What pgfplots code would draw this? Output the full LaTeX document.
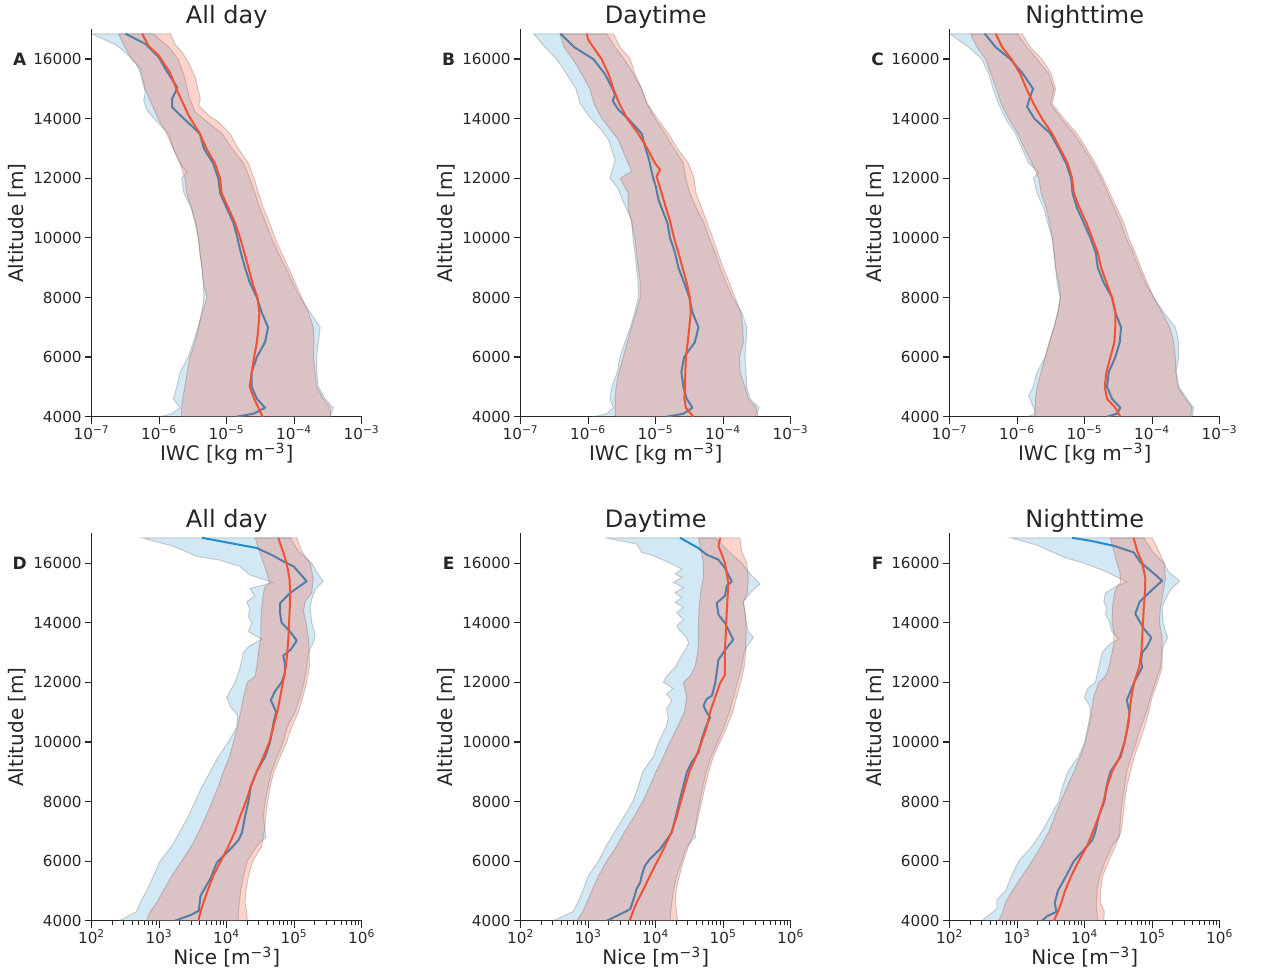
\documentclass[border=0pt]{standalone}
\usepackage{fontspec}
\setmainfont{DejaVu Sans}
\usepackage{pgfplots}
\pgfplotsset{compat=1.18}
\usepgfplotslibrary{groupplots}

\definecolor{bline}{RGB}{35,140,205}
\definecolor{rline}{RGB}{242,82,52}
\definecolor{txt}{RGB}{38,38,38}

\tikzset{letter/.style={font=\bfseries\fontsize{8.5}{10}\selectfont, text=txt}}

\pgfplotsset{
  prof/.style={
    scale only axis, width=135pt, height=193.7pt,
    ymin=4000, ymax=17000,
    ytick={4000,6000,8000,10000,12000,14000,16000},
    yticklabels={4000,6000,8000,10000,12000,14000,16000},
    scaled y ticks=false,
    axis x line*=bottom, axis y line*=left,
    axis line style={txt, line width=0.6pt, -},
    tick align=outside,
    major tick length=3.5pt, minor tick length=2pt,
    major tick style={txt, line width=0.6pt},
    minor tick style={txt, line width=0.45pt},
    tick label style={font=\fontsize{7.6}{9}\selectfont, text=txt},
    xticklabel style={yshift=2.5pt},
    yticklabel style={xshift=2pt},
    label style={font=\fontsize{10}{12}\selectfont, text=txt},
    every axis title/.style={font=\fontsize{12}{14}\selectfont, text=txt,
      at={(axis description cs:0.5,1.0155)}, anchor=base},
    xlabel style={at={(axis description cs:0.5,-0.113)}, anchor=base},
    ylabel style={at={(axis description cs:-0.277,0.5)}, anchor=center},
    ylabel={Altitude [m]},
  },
  iwc/.style={xmin=1e-7, xmax=1e-3,
    xtick={1e-7,1e-6,1e-5,1e-4,1e-3},
    xticklabels={10\textsuperscript{−7},10\textsuperscript{−6},10\textsuperscript{−5},10\textsuperscript{−4},10\textsuperscript{−3}},
    xminorticks=false,
    xlabel={IWC [kg m\textsuperscript{−3}]}},
  nice/.style={xmin=1e2, xmax=1e6,
    xtick={1e2,1e3,1e4,1e5,1e6},
    xticklabels={10\textsuperscript{2},10\textsuperscript{3},10\textsuperscript{4},10\textsuperscript{5},10\textsuperscript{6}},
    minor xtick={200,300,400,500,600,700,800,900,
      2000,3000,4000,5000,6000,7000,8000,9000,
      20000,30000,40000,50000,60000,70000,80000,90000,
      200000,300000,400000,500000,600000,700000,800000,900000},
    xlabel={Nice [m\textsuperscript{−3}]}},
  panel/.style={extra description/.code={\node[letter] at (-0.267,0.923) {#1};}},
  bband/.style={fill=bline, fill opacity=0.2, draw=black!60, draw opacity=0.3, line width=0.5pt},
  rband/.style={fill=rline, fill opacity=0.25, draw=black!60, draw opacity=0.3, line width=0.5pt},
  bmed/.style={bline, line width=1pt, line join=round},
  rmed/.style={rline, line width=1pt, line join=round},
}

\begin{document}
\begin{tikzpicture}
\begin{groupplot}[group style={group size=3 by 2, horizontal sep=79.5pt, vertical sep=58.3pt},
  xmode=log, prof]

% ---------------- IWC, all day ----------------
\nextgroupplot[iwc, title={All day}, panel=A]
\addplot[bband] coordinates {
(1.03e-6,4000) (1.53e-6,4100) (2.04e-6,4300) (1.62e-6,4600) (1.82e-6,5000) (2.04e-6,5500) (2.7e-6,6000) (3.2e-6,6500) (3.8e-6,7000) (4.3e-6,7500) (4.6e-6,8000) (4.5e-6,8500) (4.3e-6,9000) (4.0e-6,9500) (3.8e-6,10000) (3.4e-6,10500) (3.0e-6,11000) (2.33e-6,11500) (2.15e-6,12000) (2.55e-6,12200) (2.04e-6,12500) (1.62e-6,13000) (1.37e-6,13500) (8.5e-7,14000) (6.6e-7,14275) (5.9e-7,14611) (6.2e-7,14893) (5.2e-7,15565) (4.4e-7,15900) (3.5e-7,16122) (2.37e-7,16458) (1.0e-7,16850)
(8.1e-7,16850) (1.4e-6,16400) (1.9e-6,16000) (2.3e-6,15500) (2.6e-6,15000) (2.8e-6,14700) (3.4e-6,14230) (4.5e-6,14000) (8.5e-6,13500) (1.2e-5,13000) (1.77e-5,12500) (2.2e-5,12000) (2.63e-5,11500) (3.1e-5,11000) (3.8e-5,10500) (4.6e-5,10000) (5.8e-5,9500) (7.5e-5,9000) (9.5e-5,8500) (1.22e-4,8000) (1.72e-4,7500) (2.42e-4,7000) (2.28e-4,6500) (2.15e-4,6000) (2.15e-4,5500) (2.28e-4,5000) (2.86e-4,4600) (3.8e-4,4300) (3.4e-4,4000)
} -- cycle;
\addplot[bmed] coordinates {
(1.4e-5,4000) (2.5e-5,4100) (3.7e-5,4300) (2.8e-5,4600) (2.35e-5,5000) (2.35e-5,5500) (2.8e-5,6000) (3.7e-5,6500) (4.1e-5,7000) (3.3e-5,7500) (2.8e-5,8000) (2.2e-5,8500) (1.87e-5,9000) (1.62e-5,9500) (1.44e-5,10000) (1.26e-5,10500) (1.0e-5,11000) (8.0e-6,11500) (7.5e-6,12000) (6.3e-6,12500) (4.6e-6,13000) (4.0e-6,13500) (1.95e-6,14164) (1.55e-6,14389) (1.55e-6,14668) (1.74e-6,14893) (1.84e-6,15061) (1.23e-6,15676) (9.8e-7,16068) (6.2e-7,16515) (3.16e-7,16850)
};
\addplot[rband] coordinates {
(2.15e-6,4000) (2.15e-6,4300) (2.23e-6,4600) (2.4e-6,5000) (2.6e-6,5500) (2.86e-6,6000) (3.4e-6,6500) (3.8e-6,7000) (4.3e-6,7500) (5.1e-6,8000) (4.5e-6,8500) (4.3e-6,9000) (4.0e-6,9500) (3.8e-6,10000) (3.5e-6,10500) (3.0e-6,11000) (2.55e-6,11500) (2.4e-6,12000) (2.04e-6,12500) (1.62e-6,13000) (1.29e-6,13500) (9.7e-7,14000) (7.7e-7,14500) (6.2e-7,15000) (5.2e-7,15700) (3.9e-7,16000) (3.1e-7,16400) (2.5e-7,16850)
(1.46e-6,16850) (1.72e-6,16500) (2.18e-6,16235) (2.7e-6,15900) (3.4e-6,15400) (3.85e-6,14893) (4.07e-6,14668) (3.85e-6,14443) (5.4e-6,14107) (7.5e-6,13900) (1.12e-5,13500) (1.49e-5,13000) (2.1e-5,12500) (2.55e-5,12000) (2.95e-5,11500) (3.5e-5,11000) (4.3e-5,10500) (5.2e-5,10000) (6.5e-5,9500) (8.2e-5,9000) (1.03e-4,8500) (1.29e-4,8000) (1.62e-4,7500) (1.92e-4,7000) (1.97e-4,6500) (1.92e-4,6000) (2.04e-4,5500) (2.15e-4,5000) (2.7e-4,4600) (3.4e-4,4300) (3.5e-4,4000)
} -- cycle;
\addplot[rmed] coordinates {
(3.4e-5,4000) (2.95e-5,4300) (2.55e-5,4600) (2.2e-5,5000) (2.35e-5,5500) (2.55e-5,6000) (2.8e-5,6500) (2.95e-5,7000) (3.05e-5,7500) (2.85e-5,8000) (2.4e-5,8500) (2.1e-5,9000) (1.83e-5,9500) (1.58e-5,10000) (1.33e-5,10500) (1.06e-5,11000) (8.4e-6,11500) (8.0e-6,12000) (6.7e-6,12500) (5.0e-6,13000) (4.0e-6,13500) (2.73e-6,14107) (1.84e-6,14950) (1.43e-6,15565) (9.8e-7,16122) (6.9e-7,16450) (5.6e-7,16850)
};

% ---------------- IWC, daytime ----------------
\nextgroupplot[iwc, title={Daytime}, panel=B]
\addplot[bband] coordinates {
(1.19e-6,4000) (1.88e-6,4100) (2.36e-6,4300) (2.1e-6,4600) (2.23e-6,5000) (2.7e-6,5500) (2.96e-6,6000) (3.5e-6,6500) (4.2e-6,7000) (4.9e-6,7500) (5.5e-6,8000) (5.5e-6,8500) (5.2e-6,9000) (4.9e-6,9500) (4.6e-6,10000) (4.4e-6,10600) (3.3e-6,11220) (2.7e-6,11700) (2.1e-6,12000) (2.5e-6,12620) (2.0e-6,13290) (1.6e-6,13600) (1.1e-6,14000) (7.6e-7,14500) (6.6e-7,15000) (4.8e-7,15500) (3.4e-7,16000) (2.3e-7,16400) (1.54e-7,16850)
(1.88e-6,16850) (2.5e-6,16400) (3.4e-6,16000) (4.7e-6,15500) (6.2e-6,15000) (7.4e-6,14500) (9.8e-6,14000) (1.37e-5,13500) (1.87e-5,13000) (2.57e-5,12500) (2.8e-5,12000) (3.2e-5,11500) (4.0e-5,11000) (5.2e-5,10500) (6.2e-5,10000) (7.6e-5,9500) (9.0e-5,9000) (1.1e-4,8500) (1.38e-4,8000) (1.88e-4,7500) (2.23e-4,7000) (2.18e-4,6500) (2.1e-4,6000) (2.18e-4,5500) (2.23e-4,5000) (2.5e-4,4600) (3.4e-4,4300) (2.96e-4,4000)
} -- cycle;
\addplot[bmed] coordinates {
(1.46e-5,4000) (2.57e-5,4100) (3.5e-5,4300) (2.88e-5,4600) (2.57e-5,5000) (2.4e-5,5500) (2.63e-5,6000) (3.8e-5,6500) (4.3e-5,7000) (3.5e-5,7500) (3.15e-5,8000) (2.63e-5,8500) (2.17e-5,9000) (1.93e-5,9500) (1.63e-5,10000) (1.49e-5,10500) (1.1e-5,11277) (1.01e-5,11700) (9.2e-6,12000) (8.7e-6,12227) (8.0e-6,12600) (7.1e-6,13000) (6.2e-6,13500) (3.9e-6,14000) (2.8e-6,14300) (2.3e-6,14600) (2.5e-6,14800) (2.3e-6,15000) (1.77e-6,15500) (1.19e-6,16000) (6.2e-7,16400) (3.9e-7,16850)
};
\addplot[rband] coordinates {
(2.5e-6,4000) (2.5e-6,4300) (2.5e-6,4600) (2.58e-6,5000) (2.86e-6,5500) (3.3e-6,6000) (3.8e-6,6500) (4.4e-6,7000) (5.1e-6,7500) (5.9e-6,8000) (5.9e-6,8500) (5.5e-6,9000) (5.2e-6,9500) (4.9e-6,10000) (4.4e-6,10500) (3.9e-6,11000) (3.9e-6,11500) (2.96e-6,12000) (4.4e-6,12230) (3.7e-6,12620) (2.8e-6,13290) (2.2e-6,13600) (1.6e-6,14000) (1.22e-6,14500) (1.06e-6,15000) (8.0e-7,15500) (5.9e-7,16000) (4.4e-7,16400) (3.8e-7,16850)
(2.36e-6,16850) (2.96e-6,16400) (4.2e-6,16000) (4.9e-6,15500) (6.2e-6,15000) (7.5e-6,14500) (1.06e-5,14000) (1.54e-5,13500) (2.1e-5,13000) (3.05e-5,12500) (3.7e-5,12000) (3.96e-5,11500) (4.8e-5,11000) (5.8e-5,10500) (7.0e-5,10000) (8.3e-5,9500) (1.0e-4,9000) (1.23e-4,8500) (1.5e-4,8000) (1.82e-4,7500) (1.95e-4,7000) (1.99e-4,6500) (1.74e-4,6000) (1.78e-4,5500) (2.1e-4,5000) (2.36e-4,4600) (3.06e-4,4300) (3.3e-4,4000)
} -- cycle;
\addplot[rmed] coordinates {
(3.6e-5,4000) (2.8e-5,4300) (2.66e-5,4600) (2.72e-5,5000) (2.75e-5,5500) (2.8e-5,6000) (2.98e-5,6500) (3.15e-5,7000) (3.3e-5,7500) (3.2e-5,8000) (2.88e-5,8500) (2.5e-5,9000) (2.17e-5,9500) (1.87e-5,10000) (1.62e-5,10590) (1.42e-5,11000) (1.19e-5,11600) (1.03e-5,12060) (1.16e-5,12290) (9.8e-6,12500) (7.5e-6,13000) (5.5e-6,13500) (3.8e-6,14000) (2.9e-6,14500) (2.36e-6,15000) (2.0e-6,15500) (1.58e-6,16000) (1.19e-6,16400) (1.0e-6,16650) (9.5e-7,16850)
};

% ---------------- IWC, nighttime ----------------
\nextgroupplot[iwc, title={Nighttime}, panel=C]
\addplot[bband] coordinates {
(1.4e-6,4000) (1.86e-6,4100) (1.75e-6,4300) (1.48e-6,4700) (1.72e-6,5000) (1.97e-6,5500) (2.6e-6,6000) (3.0e-6,6500) (3.5e-6,7000) (4.0e-6,7500) (4.3e-6,8000) (3.9e-6,8500) (3.7e-6,9000) (3.5e-6,9500) (3.3e-6,10000) (2.83e-6,10500) (2.47e-6,11000) (1.97e-6,11500) (1.75e-6,12000) (2.08e-6,12200) (1.48e-6,12500) (1.18e-6,13000) (9.4e-7,13500) (6.7e-7,14000) (5.3e-7,14500) (4.4e-7,15000) (3.8e-7,15500) (3.0e-7,16000) (1.91e-7,16400) (1.0e-7,16850)
(1.0e-6,16850) (1.4e-6,16400) (1.97e-6,16000) (2.93e-6,15500) (3.5e-6,15000) (3.1e-6,14500) (4.5e-6,14000) (6.9e-6,13500) (9.7e-6,13000) (1.33e-5,12500) (1.75e-5,12000) (2.19e-5,11500) (2.75e-5,11000) (3.45e-5,10500) (4.1e-5,10000) (5.2e-5,9500) (6.3e-5,9000) (7.9e-5,8500) (1.05e-4,8000) (1.48e-4,7500) (2.2e-4,7000) (2.47e-4,6500) (2.47e-4,6000) (2.25e-4,5500) (2.47e-4,5000) (3.28e-4,4600) (4.1e-4,4300) (3.9e-4,4000)
} -- cycle;
\addplot[bmed] coordinates {
(2.14e-5,4000) (3.0e-5,4100) (3.37e-5,4300) (2.54e-5,4600) (2.14e-5,5000) (2.27e-5,5500) (2.84e-5,6000) (3.3e-5,6500) (3.45e-5,7000) (2.84e-5,7500) (2.54e-5,8000) (1.91e-5,8500) (1.56e-5,9000) (1.46e-5,9500) (1.21e-5,10000) (9.7e-6,10500) (7.7e-6,11000) (6.6e-6,11500) (6.3e-6,12000) (5.3e-6,12500) (4.1e-6,13000) (3.1e-6,13500) (1.8e-6,14000) (1.4e-6,14400) (1.53e-6,14700) (1.72e-6,15000) (1.22e-6,15500) (7.9e-7,16000) (4.8e-7,16400) (3.3e-7,16850)
};
\addplot[rband] coordinates {
(1.8e-6,4000) (1.86e-6,4300) (1.86e-6,4600) (1.97e-6,5000) (2.26e-6,5500) (2.6e-6,6000) (3.0e-6,6500) (3.5e-6,7000) (4.0e-6,7500) (4.4e-6,8000) (4.1e-6,8500) (3.7e-6,9000) (3.5e-6,9500) (3.3e-6,10000) (3.0e-6,10500) (2.7e-6,11000) (2.26e-6,11500) (2.08e-6,12000) (1.66e-6,12500) (1.28e-6,13000) (1.02e-6,13500) (7.5e-7,14000) (5.8e-7,14500) (4.9e-7,15000) (4.1e-7,15500) (3.4e-7,16000) (2.54e-7,16400) (2.02e-7,16850)
(1.18e-6,16850) (1.57e-6,16400) (2.33e-6,16000) (3.2e-6,15500) (3.7e-6,15000) (3.3e-6,14500) (4.9e-6,14000) (7.7e-6,13500) (1.06e-5,13000) (1.44e-5,12500) (1.87e-5,12000) (2.35e-5,11500) (3.0e-5,11000) (3.8e-5,10500) (4.5e-5,10000) (5.6e-5,9500) (6.8e-5,9000) (8.4e-5,8500) (1.05e-4,8000) (1.4e-4,7500) (1.82e-4,7000) (2.08e-4,6500) (2.2e-4,6000) (2.25e-4,5500) (2.39e-4,5000) (3.1e-4,4600) (3.9e-4,4300) (3.7e-4,4000)
} -- cycle;
\addplot[rmed] coordinates {
(3.37e-5,4000) (2.84e-5,4300) (2.14e-5,4600) (1.98e-5,5000) (2.1e-5,5500) (2.4e-5,6000) (2.75e-5,6500) (2.84e-5,7000) (2.84e-5,7500) (2.54e-5,8000) (2.1e-5,8500) (1.75e-5,9000) (1.56e-5,9500) (1.29e-5,10000) (1.06e-5,10500) (8.4e-6,11000) (6.9e-6,11500) (6.5e-6,12000) (5.6e-6,12500) (4.3e-6,13000) (3.3e-6,13500) (2.33e-6,14000) (1.75e-6,14500) (1.37e-6,15000) (1.11e-6,15500) (8.2e-7,16000) (6.0e-7,16400) (4.8e-7,16850)
};

% ---------------- Nice, all day ----------------
\nextgroupplot[nice, title={All day}, panel=D]
\addplot[bband] coordinates {
(2.57e2,4000) (4.6e2,4300) (5.2e2,4600) (6.5e2,5000) (8.2e2,5500) (1.03e3,6000) (1.53e3,6500) (2.04e3,7000) (2.7e3,7500) (3.4e3,8000) (4.3e3,8500) (5.7e3,9000) (7.5e3,9500) (1.06e4,10000) (1.41e4,10500) (1.44e4,10900) (1.12e4,11200) (1.0e4,11500) (1.33e4,12000) (1.58e4,12500) (1.77e4,13000) (2.1e4,13200) (3.3e4,13450) (2.1e4,13700) (2.35e4,14000) (2.1e4,14200) (2.2e4,14450) (1.98e4,14700) (2.6e4,14900) (2.2e4,15150) (4.9e4,15350) (2.2e4,15600) (1.57e4,15890) (8.0e3,16100) (3.6e3,16230) (1.62e3,16565) (5.5e2,16850)
(8.7e4,16850) (1.15e5,16400) (1.82e5,16000) (2.15e5,15700) (2.7e5,15400) (2.04e5,15100) (1.82e5,14800) (1.72e5,14500) (1.82e5,14000) (2.04e5,13600) (1.97e5,13400) (1.62e5,13000) (1.53e5,12500) (1.4e5,12000) (1.22e5,11500) (1.03e5,11000) (7.9e4,10500) (6.9e4,10000) (5.6e4,9500) (4.6e4,9000) (4.1e4,8500) (3.7e4,8000) (3.5e4,7500) (3.7e4,7000) (3.8e4,6800) (2.78e4,6500) (2.02e4,6000) (1.77e4,5500) (1.61e4,5000) (1.54e4,4600) (1.49e4,4300) (1.49e4,4000)
} -- cycle;
\addplot[bmed] coordinates {
(1.72e3,4000) (3.0e3,4200) (3.85e3,4336) (4.1e3,4840) (5.7e3,5400) (7.2e3,5960) (1.2e4,6463) (1.49e4,6700) (1.69e4,6966) (1.87e4,7500) (2.1e4,8000) (2.27e4,8500) (2.78e4,9000) (3.7e4,9500) (4.4e4,10000) (5.0e4,10700) (5.4e4,11000) (4.5e4,11400) (5.2e4,11700) (6.5e4,12000) (7.3e4,12300) (7.3e4,12600) (6.9e4,12900) (8.9e4,13100) (1.09e5,13400) (8.7e4,13700) (6.5e4,14000) (6.2e4,14300) (6.2e4,14660) (8.7e4,15000) (1.53e5,15390) (9.8e4,15890) (7.7e4,16000) (4.6e4,16280) (2.78e4,16507) (4.3e3,16850)
};
\addplot[rband] coordinates {
(6.5e2,4000) (7.3e2,4300) (9.2e2,4600) (1.15e3,5000) (1.53e3,5500) (2.15e3,6000) (3.0e3,6500) (3.9e3,7000) (4.9e3,7500) (6.1e3,8000) (7.5e3,8500) (8.9e3,9000) (1.1e4,9500) (1.26e4,10000) (1.44e4,10500) (1.61e4,11000) (1.77e4,11500) (2.02e4,12000) (2.63e4,12200) (2.78e4,12500) (2.95e4,13000) (3.2e4,13500) (3.2e4,14000) (3.3e4,14500) (3.5e4,15000) (3.7e4,15200) (4.3e4,15350) (3.9e4,15700) (3.5e4,16000) (3.05e4,16400) (2.63e4,16850)
(1.09e5,16850) (1.29e5,16400) (1.72e5,16000) (1.92e5,15500) (1.82e5,15000) (1.45e5,14700) (1.37e5,14400) (1.5e5,14000) (1.62e5,13500) (1.68e5,13000) (1.68e5,12500) (1.53e5,12000) (1.34e5,11500) (1.15e5,11000) (9.2e4,10500) (7.7e4,10000) (6.2e4,9500) (5.0e4,9000) (4.4e4,8500) (4.05e4,8000) (3.8e4,7500) (3.6e4,7000) (3.3e4,6500) (2.43e4,6000) (2.1e4,5500) (1.93e4,5000) (1.87e4,4600) (1.98e4,4300) (2.02e4,4000)
} -- cycle;
\addplot[rmed] coordinates {
(3.8e3,4000) (4.1e3,4300) (4.5e3,4600) (5.2e3,5000) (6.3e3,5500) (8.2e3,6000) (1.06e4,6500) (1.33e4,7000) (1.58e4,7500) (1.93e4,8000) (2.27e4,8500) (2.78e4,9000) (3.5e4,9500) (4.3e4,10000) (4.9e4,10500) (5.6e4,11000) (6.2e4,11500) (6.8e4,12000) (7.5e4,12500) (7.9e4,13000) (8.2e4,13500) (8.4e4,14000) (8.6e4,14500) (8.7e4,15000) (8.5e4,15500) (7.7e4,16000) (6.8e4,16400) (5.8e4,16850)
};

% ---------------- Nice, daytime ----------------
\nextgroupplot[nice, title={Daytime}, panel=E]
\addplot[bband] coordinates {
(3.05e2,4000) (5.9e2,4300) (7.0e2,4600) (8.3e2,5000) (1.0e3,5500) (1.42e3,6000) (1.84e3,6500) (2.5e3,7000) (3.4e3,7500) (4.6e3,8000) (5.5e3,8500) (6.4e3,9000) (9.2e3,9500) (1.1e4,10000) (1.42e4,10500) (1.54e4,10800) (1.45e4,11100) (1.73e4,11400) (1.45e4,11600) (1.79e4,11800) (1.3e4,12000) (1.45e4,12200) (1.93e4,12500) (2.17e4,12700) (2.57e4,13000) (2.88e4,13160) (3.05e4,13330) (2.88e4,13500) (2.29e4,13720) (2.05e4,13890) (2.57e4,14100) (2.05e4,14340) (2.57e4,14510) (1.93e4,14680) (2.43e4,14840) (1.93e4,15010) (2.57e4,15180) (1.83e4,15350) (2.43e4,15520) (1.93e4,15630) (2.43e4,15800) (1.63e4,16000) (9.2e3,16250) (6.2e3,16360) (5.2e3,16640) (2.95e3,16750) (1.77e3,16850)
(7.6e4,16850) (1.19e5,16400) (1.88e5,16000) (2.36e5,15700) (3.5e5,15300) (2.5e5,15000) (1.99e5,14700) (2.1e5,14300) (2.18e5,14000) (2.36e5,13700) (2.8e5,13500) (2.23e5,13200) (2.04e5,13000) (1.88e5,12500) (1.62e5,12000) (1.42e5,11500) (1.23e5,11000) (1.03e5,10500) (8.3e4,10000) (6.6e4,9500) (5.6e4,9000) (5.0e4,8500) (4.5e4,8000) (4.1e4,7500) (3.8e4,7000) (3.87e4,6800) (2.88e4,6500) (2.43e4,6000) (2.05e4,5500) (1.83e4,5000) (1.73e4,4600) (1.67e4,4300) (1.63e4,4000)
} -- cycle;
\addplot[bmed] coordinates {
(1.88e3,4000) (3.0e3,4220) (4.2e3,4390) (4.7e3,4730) (5.2e3,5060) (5.9e3,5290) (6.2e3,5510) (6.9e3,5840) (8.2e3,6070) (1.03e4,6290) (1.16e4,6400) (1.37e4,6630) (1.73e4,6960) (1.83e4,7190) (2.05e4,7630) (2.29e4,8080) (2.57e4,8520) (2.88e4,8970) (3.4e4,9310) (4.3e4,9640) (4.8e4,10090) (5.6e4,10540) (6.4e4,10820) (5.7e4,10990) (5.1e4,11220) (5.7e4,11440) (6.8e4,11550) (7.6e4,11970) (8.5e4,12758) (1.12e5,13150) (1.41e5,13430) (1.06e5,13989) (8.5e4,14268) (8.0e4,14660) (1.06e5,14900) (1.13e5,15240) (1.34e5,15388) (1.19e5,15611) (1.06e5,15835) (8.5e4,16114) (5.7e4,16282) (4.27e4,16505) (2.29e4,16850)
};
\addplot[rband] coordinates {
(6.8e2,4000) (8.3e2,4300) (9.5e2,4600) (1.13e3,5000) (1.42e3,5500) (1.88e3,6000) (2.64e3,6500) (3.5e3,7000) (4.8e3,7500) (6.4e3,8000) (8.1e3,8500) (1.01e4,9000) (1.3e4,9500) (1.63e4,10000) (2.1e4,10500) (2.66e4,11000) (2.88e4,11500) (2.57e4,12000) (3.2e4,12200) (3.8e4,12500) (4.2e4,13000) (4.3e4,13500) (4.3e4,14000) (4.4e4,14500) (4.6e4,15000) (5.1e4,15500) (5.1e4,16000) (4.7e4,16400) (4.3e4,16850)
(1.77e5,16850) (1.88e5,16400) (2.23e5,16000) (2.36e5,15500) (2.28e5,15000) (1.99e5,14700) (2.13e5,14300) (2.18e5,14000) (2.18e5,13500) (2.15e5,13000) (2.04e5,12500) (1.82e5,12000) (1.58e5,11500) (1.38e5,11000) (1.13e5,10500) (9.0e4,10000) (7.1e4,9500) (6.1e4,9000) (5.4e4,8500) (4.8e4,8000) (4.3e4,7500) (3.8e4,7000) (3.05e4,6500) (2.57e4,6000) (2.24e4,5500) (2.0e4,5000) (1.95e4,4600) (2.05e4,4300) (2.1e4,4000)
} -- cycle;
\addplot[rmed] coordinates {
(4.1e3,4000) (4.6e3,4300) (5.2e3,4600) (6.4e3,5000) (8.2e3,5500) (1.06e4,6000) (1.37e4,6500) (1.73e4,7000) (2.05e4,7500) (2.35e4,8000) (2.72e4,8500) (3.15e4,9000) (3.96e4,9500) (4.8e4,10000) (5.7e4,10500) (6.4e4,11000) (7.6e4,11500) (9.0e4,11970) (1.06e5,12250) (1.06e5,12500) (1.06e5,13100) (1.09e5,13600) (1.12e5,14212) (1.15e5,14700) (1.19e5,15332) (1.12e5,15700) (1.06e5,16000) (9.5e4,16300) (8.5e4,16560) (9.0e4,16850)
};

% ---------------- Nice, nighttime ----------------
\nextgroupplot[nice, title={Nighttime}, panel=F]
\addplot[bband] coordinates {
(3.0e2,4000) (5.0e2,4400) (5.0e2,4700) (6.7e2,5000) (8.2e2,5500) (1.05e3,6000) (1.66e3,6500) (2.33e3,7000) (3.1e3,7500) (4.1e3,8000) (4.7e3,8500) (5.6e3,9000) (8.1e3,9500) (1.0e4,10000) (1.11e4,10500) (1.21e4,10900) (1.19e4,11200) (9.9e3,11500) (1.11e4,11800) (1.44e4,12000) (1.61e4,12500) (1.81e4,13000) (2.4e4,13300) (3.2e4,13450) (2.54e4,13700) (2.35e4,14000) (2.02e4,14300) (2.14e4,14500) (1.91e4,14700) (2.02e4,15000) (2.85e4,15200) (4.2e4,15370) (2.14e4,15700) (9.7e3,16000) (4.9e3,16200) (3.1e3,16400) (1.97e3,16600) (7.9e2,16850)
(7.5e4,16850) (9.95e4,16400) (1.48e5,16000) (1.75e5,15700) (2.55e5,15400) (1.86e5,15100) (1.57e5,14800) (1.4e5,14500) (1.45e5,14000) (1.57e5,13700) (1.7e5,13500) (1.45e5,13200) (1.4e5,13000) (1.32e5,12500) (1.11e5,12000) (9.4e4,11500) (8.2e4,11000) (6.8e4,10500) (5.8e4,10000) (4.9e4,9500) (4.2e4,9000) (3.9e4,8500) (3.6e4,8000) (3.4e4,7500) (3.3e4,7000) (3.2e4,6800) (2.54e4,6500) (2.02e4,6000) (1.67e4,5500) (1.52e4,5000) (1.49e4,4600) (1.52e4,4300) (1.56e4,4000)
} -- cycle;
\addplot[bmed] coordinates {
(2.33e3,4000) (2.77e3,4150) (3.8e3,4300) (3.6e3,4600) (4.0e3,5000) (5.3e3,5500) (6.9e3,6000) (1.08e4,6500) (1.29e4,6700) (1.44e4,7000) (1.61e4,7500) (1.95e4,8000) (2.1e4,8500) (2.4e4,9000) (3.4e4,9500) (3.9e4,10000) (4.5e4,10700) (4.6e4,11000) (4.2e4,11400) (4.75e4,11700) (5.4e4,12000) (7.1e4,12500) (6.8e4,12700) (7.1e4,13000) (8.4e4,13200) (9.7e4,13500) (7.5e4,13800) (6.3e4,14100) (5.6e4,14300) (6.5e4,14700) (8.9e4,15000) (1.4e5,15410) (9.4e4,15750) (6.7e4,16030) (5.3e4,16360) (2.7e4,16580) (1.21e4,16750) (6.5e3,16850)
};
\addplot[rband] coordinates {
(5.3e2,4000) (6.1e2,4300) (6.7e2,4600) (8.4e2,5000) (1.18e3,5500) (1.66e3,6000) (2.25e3,6500) (2.97e3,7000) (3.6e3,7500) (4.4e3,8000) (5.5e3,8500) (6.9e3,9000) (8.6e3,9500) (1.02e4,10000) (1.15e4,10500) (1.26e4,11000) (1.36e4,11500) (1.61e4,12000) (2.02e4,12200) (2.27e4,12500) (2.54e4,13000) (2.69e4,13300) (2.7e4,13450) (2.69e4,13700) (2.54e4,14000) (2.57e4,14500) (2.75e4,15000) (3.0e4,15200) (3.4e4,15350) (3.3e4,15700) (3.0e4,16000) (2.69e4,16400) (2.4e4,16850)
(9.95e4,16850) (1.25e5,16400) (1.51e5,16000) (1.57e5,15500) (1.45e5,15000) (1.32e5,14500) (1.28e5,14000) (1.4e5,13500) (1.4e5,13000) (1.4e5,12500) (1.2e5,12000) (9.95e4,11500) (8.9e4,11000) (7.7e4,10500) (6.5e4,10000) (5.4e4,9500) (4.75e4,9000) (4.2e4,8500) (3.9e4,8000) (3.7e4,7500) (3.45e4,7000) (2.85e4,6500) (2.27e4,6000) (1.85e4,5500) (1.71e4,5000) (1.71e4,4600) (1.95e4,4300) (1.91e4,4000)
} -- cycle;
\addplot[rmed] coordinates {
(3.5e3,4000) (4.0e3,4300) (4.5e3,4600) (5.1e3,5000) (6.3e3,5500) (8.1e3,6000) (1.08e4,6500) (1.33e4,7000) (1.61e4,7500) (1.91e4,8000) (2.14e4,8500) (2.54e4,9000) (3.3e4,9500) (3.9e4,10000) (4.3e4,10500) (4.6e4,11000) (4.9e4,11500) (5.4e4,12000) (6.4e4,12500) (6.9e4,13000) (7.1e4,13500) (7.3e4,14000) (7.5e4,14500) (7.8e4,15000) (7.9e4,15500) (7.1e4,16000) (6.0e4,16400) (5.3e4,16850)
};

\end{groupplot}
\pgfresetboundingbox
\path[use as bounding box]
  ([shift={(-45.85pt,208.35pt)}]group c1r1.south west)
  rectangle
  ([shift={(585.15pt,-278.65pt)}]group c1r1.south west);
\end{tikzpicture}
\end{document}
